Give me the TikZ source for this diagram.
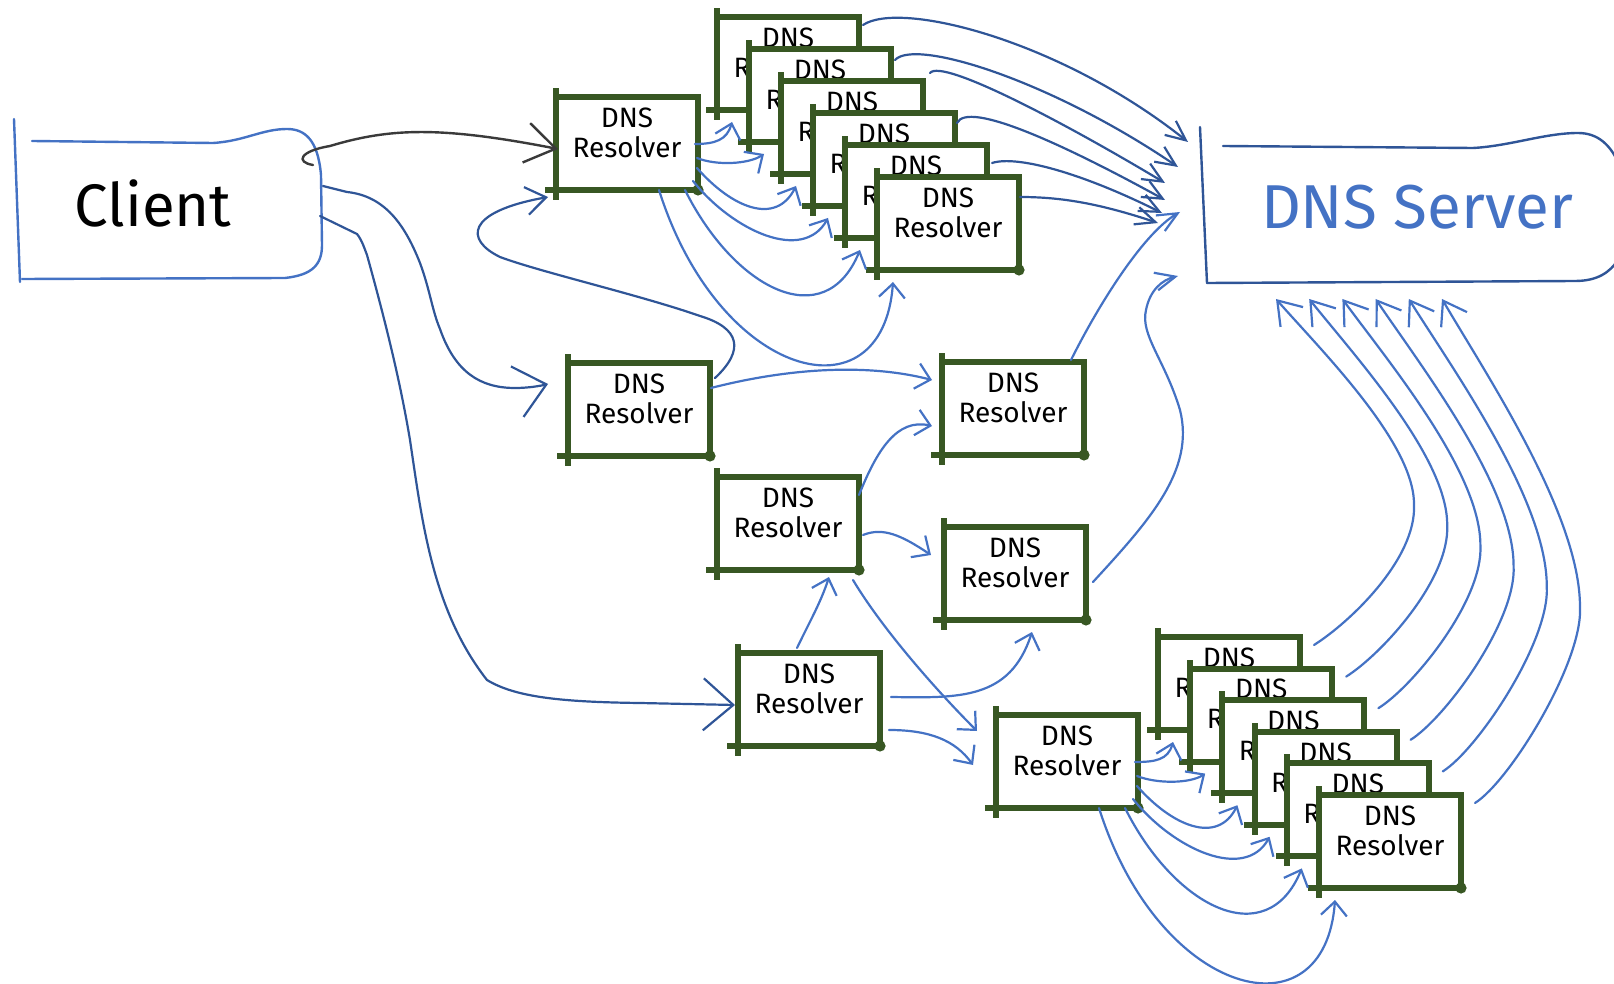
\documentclass[tikz,border=0pt]{standalone}
\usepackage{fontspec}
\setmainfont{Fira Sans}
\usetikzlibrary{arrows.meta}
\definecolor{rgreen}{HTML}{385723}
\definecolor{lblue}{HTML}{4472C4}
\definecolor{dblue}{HTML}{2F5597}
\definecolor{dgray}{HTML}{3A3A3A}
\tikzset{
 resolver/.style={draw=rgreen, line width=3pt, fill=white, minimum width=71pt, minimum height=46.5pt,
   inner sep=0pt, outer sep=0pt, anchor=north west, font=\fontsize{14}{15}\selectfont, text=black},
 lconn/.style={draw=lblue, line width=1.1pt, line cap=round, line join=round},
 dconn/.style={draw=dblue, line width=1.1pt, line cap=round, line join=round},
 gconn/.style={draw=dgray, line width=1.2pt, line cap=round, line join=round},
 outl/.style={line width=1.2pt, line cap=round, line join=round},
 tipA/.style={-{Straight Barb[length=7pt,width=13pt]}},
 tipC/.style={-{Straight Barb[length=15pt,width=26pt]}},
 tipG/.style={-{Straight Barb[length=15pt,width=20pt]}},
 tipL/.style={-{Straight Barb[length=10pt,width=14pt]}},
 tipS/.style={-{Straight Barb[length=10pt,width=9pt]}},
 tipB/.style={-{Straight Barb[length=11pt,width=15pt]}}
}
\newcommand\restext{\raisebox{0pt}[18pt][18pt]{\begin{tabular}{@{}c@{}}DNS\\Resolver\end{tabular}}}
\newcommand\resbox[3]{%
  \node[resolver] (#1) at ({#2},{#3}) {\restext};%
  \draw[rgreen,line width=3pt] (#1.north west) -- ++(0,-9);%
  \draw[rgreen,line width=3pt] (#1.south west) -- ++(0,10);%
  \draw[rgreen,line width=3pt] (#1.south west) -- ++(-11,0);%
  \fill[rgreen] (#1.south east) circle[radius=2.8pt];%
}
\newcommand\stackarrows[2]{%
  \draw[lconn,tipA] ([shift={(139,47)}]#1.north west) .. controls +(20,0) and +(-5,18) .. ([shift={(15,12)}]#20.south west);%
  \draw[lconn,tipA] ([shift={(141,61)}]#1.north west) .. controls +(20,8) and +(-15,10) .. ([shift={(15,12)}]#21.south west);%
  \draw[lconn,tipA] ([shift={(141,71)}]#1.north west) .. controls +(35,40) and +(-20,40) .. ([shift={(15,12)}]#22.south west);%
  \draw[lconn,tipA] ([shift={(137,84)}]#1.north west) .. controls +(40,50) and +(-25,45) .. ([shift={(15,12)}]#23.south west);%
  \draw[lconn,tipA] ([shift={(129,93)}]#1.north west) .. controls +(50,100) and +(-35,85) .. ([shift={(15,12)}]#24.south west);%
  \draw[lconn,tipA] ([shift={(103,93)}]#1.north west) .. controls +(60,190) and +(-10,140) .. ([shift={(16,12)}]#25.south west);%
}
\begin{document}
\begin{tikzpicture}[x=0.5pt,y=-0.5pt]
\useasboundingbox (0,0) rectangle (1614,984);
\clip (0,0) rectangle (1614,984);
% ---------- client ----------
\node[font=\fontsize{30}{32}\selectfont] (client) at (153,203) {Client};
\draw[lblue,outl] (14,119) -- (20,282);
\draw[lblue,outl] (32,141) -- (213,143) .. controls (245,141) and (262,129) .. (287,129)
   .. controls (305,129) and (318,140) .. (321,175) -- (322,245)
   .. controls (322,265) and (312,275) .. (285,278) -- (22,279);
% ---------- server ----------
\coordinate (srvNW) at (1200,127);
\coordinate (srvSW) at (1207,283);
\node[font=\fontsize{31}{33}\selectfont, text=lblue] (srv) at (1417,207) {DNS Server};
\draw[dblue,outl] (srvNW) -- (srvSW);
\draw[dblue,outl] (1223,146) -- (1473,148) .. controls (1510,146) and (1545,133) .. (1578,133)
   .. controls (1598,133) and (1610,145) .. (1618,162);
\draw[dblue,outl] (srvSW) -- (1575,281) .. controls (1598,281) and (1610,272) .. (1618,260);
% ---------- resolvers ----------
\resbox{R1}{556}{97}
\foreach \i in {0,...,5} {\resbox{T\i}{717+32*\i}{17+32*\i}}
\resbox{R2}{568}{363}
\resbox{R3}{942}{362}
\resbox{R4}{717}{477}
\resbox{R5}{944}{527}
\resbox{R6}{738}{653}
\resbox{R7}{996}{715}
\foreach \i in {0,...,5} {\resbox{B\i}{1158+32.2*\i}{637+31.6*\i}}
% ---------- client connectors ----------
\draw[gconn,tipG] ([shift={(160,-38)}]client.center) .. controls +(-18,-3) and +(-30,5) .. (330,146)
   .. controls (390,128) and (440,126) .. ([shift={(2,52)}]R1.north west);
\draw[dconn,tipC] ([shift={(170,-17)}]client.center) -- (347,192) .. controls (385,196) and (405,225) .. (420,263)
   .. controls (430,290) and (432,310) .. (440,329) .. controls (455,372) and (480,388) .. (515,388)
   .. controls (528,388) and (540,386) .. ([shift={(-20,21)}]R2.north west);
\draw[dconn,tipC] ([shift={(167,13)}]client.center) -- (357,234) .. controls (362,240) and (365,250) .. (367,255)
   .. controls (385,320) and (400,380) .. (410,440) .. controls (422,520) and (432,610) .. (487,680)
   .. controls (515,697) and (560,702) .. (640,703) -- ([shift={(-3,52)}]R6.north west);
% ---------- resolver connectors ----------
\draw[dconn,tipL] ([shift={(5,15)}]R2.north east) .. controls (745,350) and (740,328) .. (700,316)
   .. controls (640,295) and (540,272) .. (500,257) .. controls (465,240) and (465,212) .. ([shift={(-8,7)}]R1.south west);
\stackarrows{R1}{T}
\stackarrows{R7}{B}
\draw[lconn,tipA] ([shift={(1,25)}]R2.north east) .. controls +(70,-18) and +(-70,-18) .. ([shift={(-10,18)}]R3.north west);
\draw[lconn,tipA] ([shift={(0,18)}]R4.north east) .. controls +(18,-45) and +(-35,-8) .. ([shift={(-10,64)}]R3.north west);
\draw[lconn,tipA] ([shift={(4,58)}]R4.north east) .. controls +(20,-8) and +(-30,-20) .. ([shift={(-13,28)}]R5.north west);
\draw[lconn,tipA] ([shift={(59,-5)}]R6.north west) .. controls +(12,-25) and +(-8,25) .. ([shift={(112,7)}]R4.south west);
\draw[lconn,tipA] ([shift={(-6,10)}]R4.south east) .. controls +(30,50) and +(-40,-40) .. ([shift={(-19,16)}]R7.north west);
\draw[lconn,tipA] ([shift={(11,44)}]R6.north east) .. controls +(68,1) and +(-22,68) .. ([shift={(88,12)}]R5.south west);
\draw[lconn,tipA] ([shift={(9,77)}]R6.north east) .. controls +(40,0) and +(-18,-25) .. ([shift={(-23,50)}]R7.north west);
% ---------- to server ----------
\draw[lconn,tipS] ([shift={(-13,-2)}]R3.north east) .. controls +(30,-60) and +(-35,20) .. ([shift={(-20,85)}]srvNW);
\draw[lconn,tipS] ([shift={(7,55)}]R5.north east) .. controls (1150,520) and (1195,470) .. (1180,410)
   .. controls (1165,360) and (1140,335) .. (1146,310) .. controls (1150,290) and (1162,280) .. ([shift={(-29,-7)}]srvSW);
\draw[dconn,tipS] ([shift={(4,8)}]T0.north east) .. controls +(37,-25) and +(-128,-102) .. ([shift={(-12,15)}]srvNW);
\draw[dconn,tipS] ([shift={(4,11)}]T1.north east) .. controls +(20,-22) and +(-128,-87) .. ([shift={(-22,40)}]srvNW);
\draw[dconn,tipS] ([shift={(7,-8)}]T2.north east) .. controls +(12,-15) and +(-100,-60) .. ([shift={(-35,56)}]srvNW);
\draw[dconn,tipS] ([shift={(2,10)}]T3.north east) .. controls +(11,-23) and +(-100,-55) .. ([shift={(-35,73)}]srvNW);
\draw[dconn,tipS] ([shift={(5,18)}]T4.north east) .. controls +(25,-8) and +(-80,-40) .. ([shift={(-38,86)}]srvNW);
\draw[dconn,tipS] ([shift={(1,20)}]T5.north east) .. controls +(40,0) and +(-60,-20) .. ([shift={(-42,96)}]srvNW);
\foreach \i in {0,...,5} {
  \pgfmathsetmacro\px{1414+33.2*\i}
  \pgfmathsetmacro\py{504+20.6*\i}
  \pgfmathsetmacro\tx{69+33.2*\i}
  \pgfmathsetmacro\dy{205+20.6*\i}
  \pgfmathsetmacro\cu{-0.3*\dy}
  \pgfmathsetmacro\cd{0.25*\dy}
  \draw[lconn,tipB] ([shift={(14,8)}]B\i.north east) .. controls +(35,-22) and +(3,55) .. (\px,\py)
     .. controls +(0,\cu) and +(45,\cd) .. ([shift={(\tx,16)}]srvSW);
}
\end{tikzpicture}
\end{document}
